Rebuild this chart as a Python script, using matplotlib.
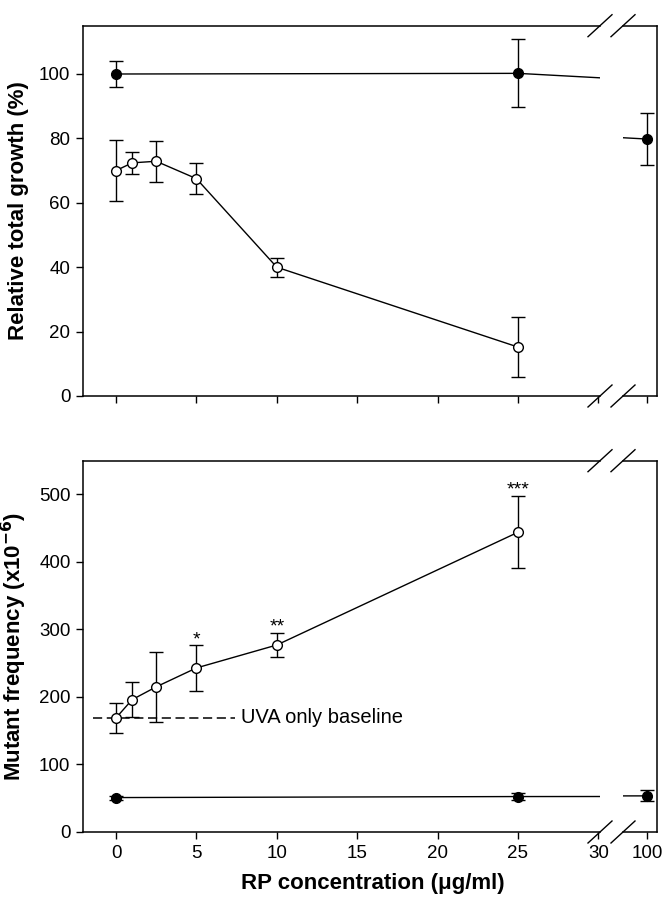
import numpy as np
import matplotlib.pyplot as plt
from matplotlib.lines import Line2D

plt.rcParams['font.family'] = ['Liberation Sans', 'DejaVu Sans']

# data
x_open = [0, 1, 2.5, 5, 10, 25]
x_fill = [0, 25, 100]

growth_open = [70.0, 72.4, 72.9, 67.5, 40.0, 15.2]
growth_open_err = [9.4, 3.5, 6.4, 4.8, 3.0, 9.4]
growth_fill = [100.0, 100.2, 79.8]
growth_fill_err = [4.0, 10.6, 8.2]

mut_open = [169, 196, 215, 243, 277, 444]
mut_open_err = [22.7, 26, 52.3, 33.5, 17.7, 53.5]
mut_fill = [51, 52.5, 53.5]
mut_fill_err = [3, 5.5, 8]
stars = {5: '*', 10: '**', 25: '***'}
baseline = 169

W, H = 662, 900
fig = plt.figure(figsize=(W / 100, H / 100), dpi=100)


def box(l, t, r, b):
    return [l / W, 1 - b / H, (r - l) / W, (b - t) / H]


L0, L1, R0, R1 = 83, 600, 623, 657
panels = [(25.7, 396), (460.7, 832)]
xl_left = (-33 / 16.08, (L1 - 116) / 16.08)
xl_right = (100 - (647 - R0) / 16.08, 100 + (R1 - 647) / 16.08)

axes = []
for (t, b) in panels:
    axl = fig.add_axes(box(L0, t, L1, b))
    axr = fig.add_axes(box(R0, t, R1, b), sharey=axl)
    axl.spines['right'].set_visible(False)
    axr.spines['left'].set_visible(False)
    axr.tick_params(left=False, labelleft=False)
    axl.set_xlim(*xl_left)
    axr.set_xlim(*xl_right)
    axl.set_xticks([0, 5, 10, 15, 20, 25, 30])
    axr.set_xticks([100])
    for a in (axl, axr):
        a.tick_params(direction='out', length=5, width=1, labelsize=13.5, pad=4)
        for s in a.spines.values():
            s.set_linewidth(1.1)
    # break marks
    for cx in (L1, R0):
        for yy in (t, b):
            fig.add_artist(Line2D([(cx - 12) / W, (cx + 12) / W],
                                  [1 - (yy + 11) / H, 1 - (yy - 11) / H],
                                  color='black', lw=1.0))
    axes.append((axl, axr))

ekw = dict(color='black', lw=1.0, elinewidth=1.0, capsize=5, capthick=1.0, ms=7, mew=1.0)

# top panel
axl, axr = axes[0]
for a in (axl, axr):
    a.errorbar(x_fill, growth_fill, yerr=growth_fill_err, fmt='-o', mfc='black', mec='black', **ekw)
axl.errorbar(x_open, growth_open, yerr=growth_open_err, fmt='-o', mfc='white', mec='black', zorder=3, **ekw)
axl.set_ylim(0, 115)
axl.set_yticks([0, 20, 40, 60, 80, 100])
axl.tick_params(labelbottom=False)
axr.tick_params(labelbottom=False)
axl.set_ylabel('Relative total growth (%)', fontsize=16, fontweight='bold', labelpad=7)

# bottom panel
axl, axr = axes[1]
for a in (axl, axr):
    a.errorbar(x_fill, mut_fill, yerr=mut_fill_err, fmt='-o', mfc='black', mec='black', **ekw)
axl.errorbar(x_open, mut_open, yerr=mut_open_err, fmt='-o', mfc='white', mec='black', zorder=3, **ekw)
axl.plot([-1.43, 7.4], [baseline, baseline], color='black', lw=1.1, dashes=(6, 3))
axl.text(7.8, baseline, 'UVA only baseline', fontsize=14.5, va='center', ha='left')
for xv, s in stars.items():
    i = x_open.index(xv)
    axl.text(xv, mut_open[i] + mut_open_err[i] - 4, s, ha='center', va='bottom', fontsize=14)
axl.set_ylim(0, 550)
axl.set_yticks([0, 100, 200, 300, 400, 500])
axl.set_ylabel('Mutant frequency (x10$^{\\mathbf{-6}}$)', fontsize=16, fontweight='bold', labelpad=7)
axl.set_xlabel('RP concentration (\u03bcg/ml)', fontsize=16, fontweight='bold', labelpad=8, x=0.56)

fig.savefig('out.png', dpi=100)
